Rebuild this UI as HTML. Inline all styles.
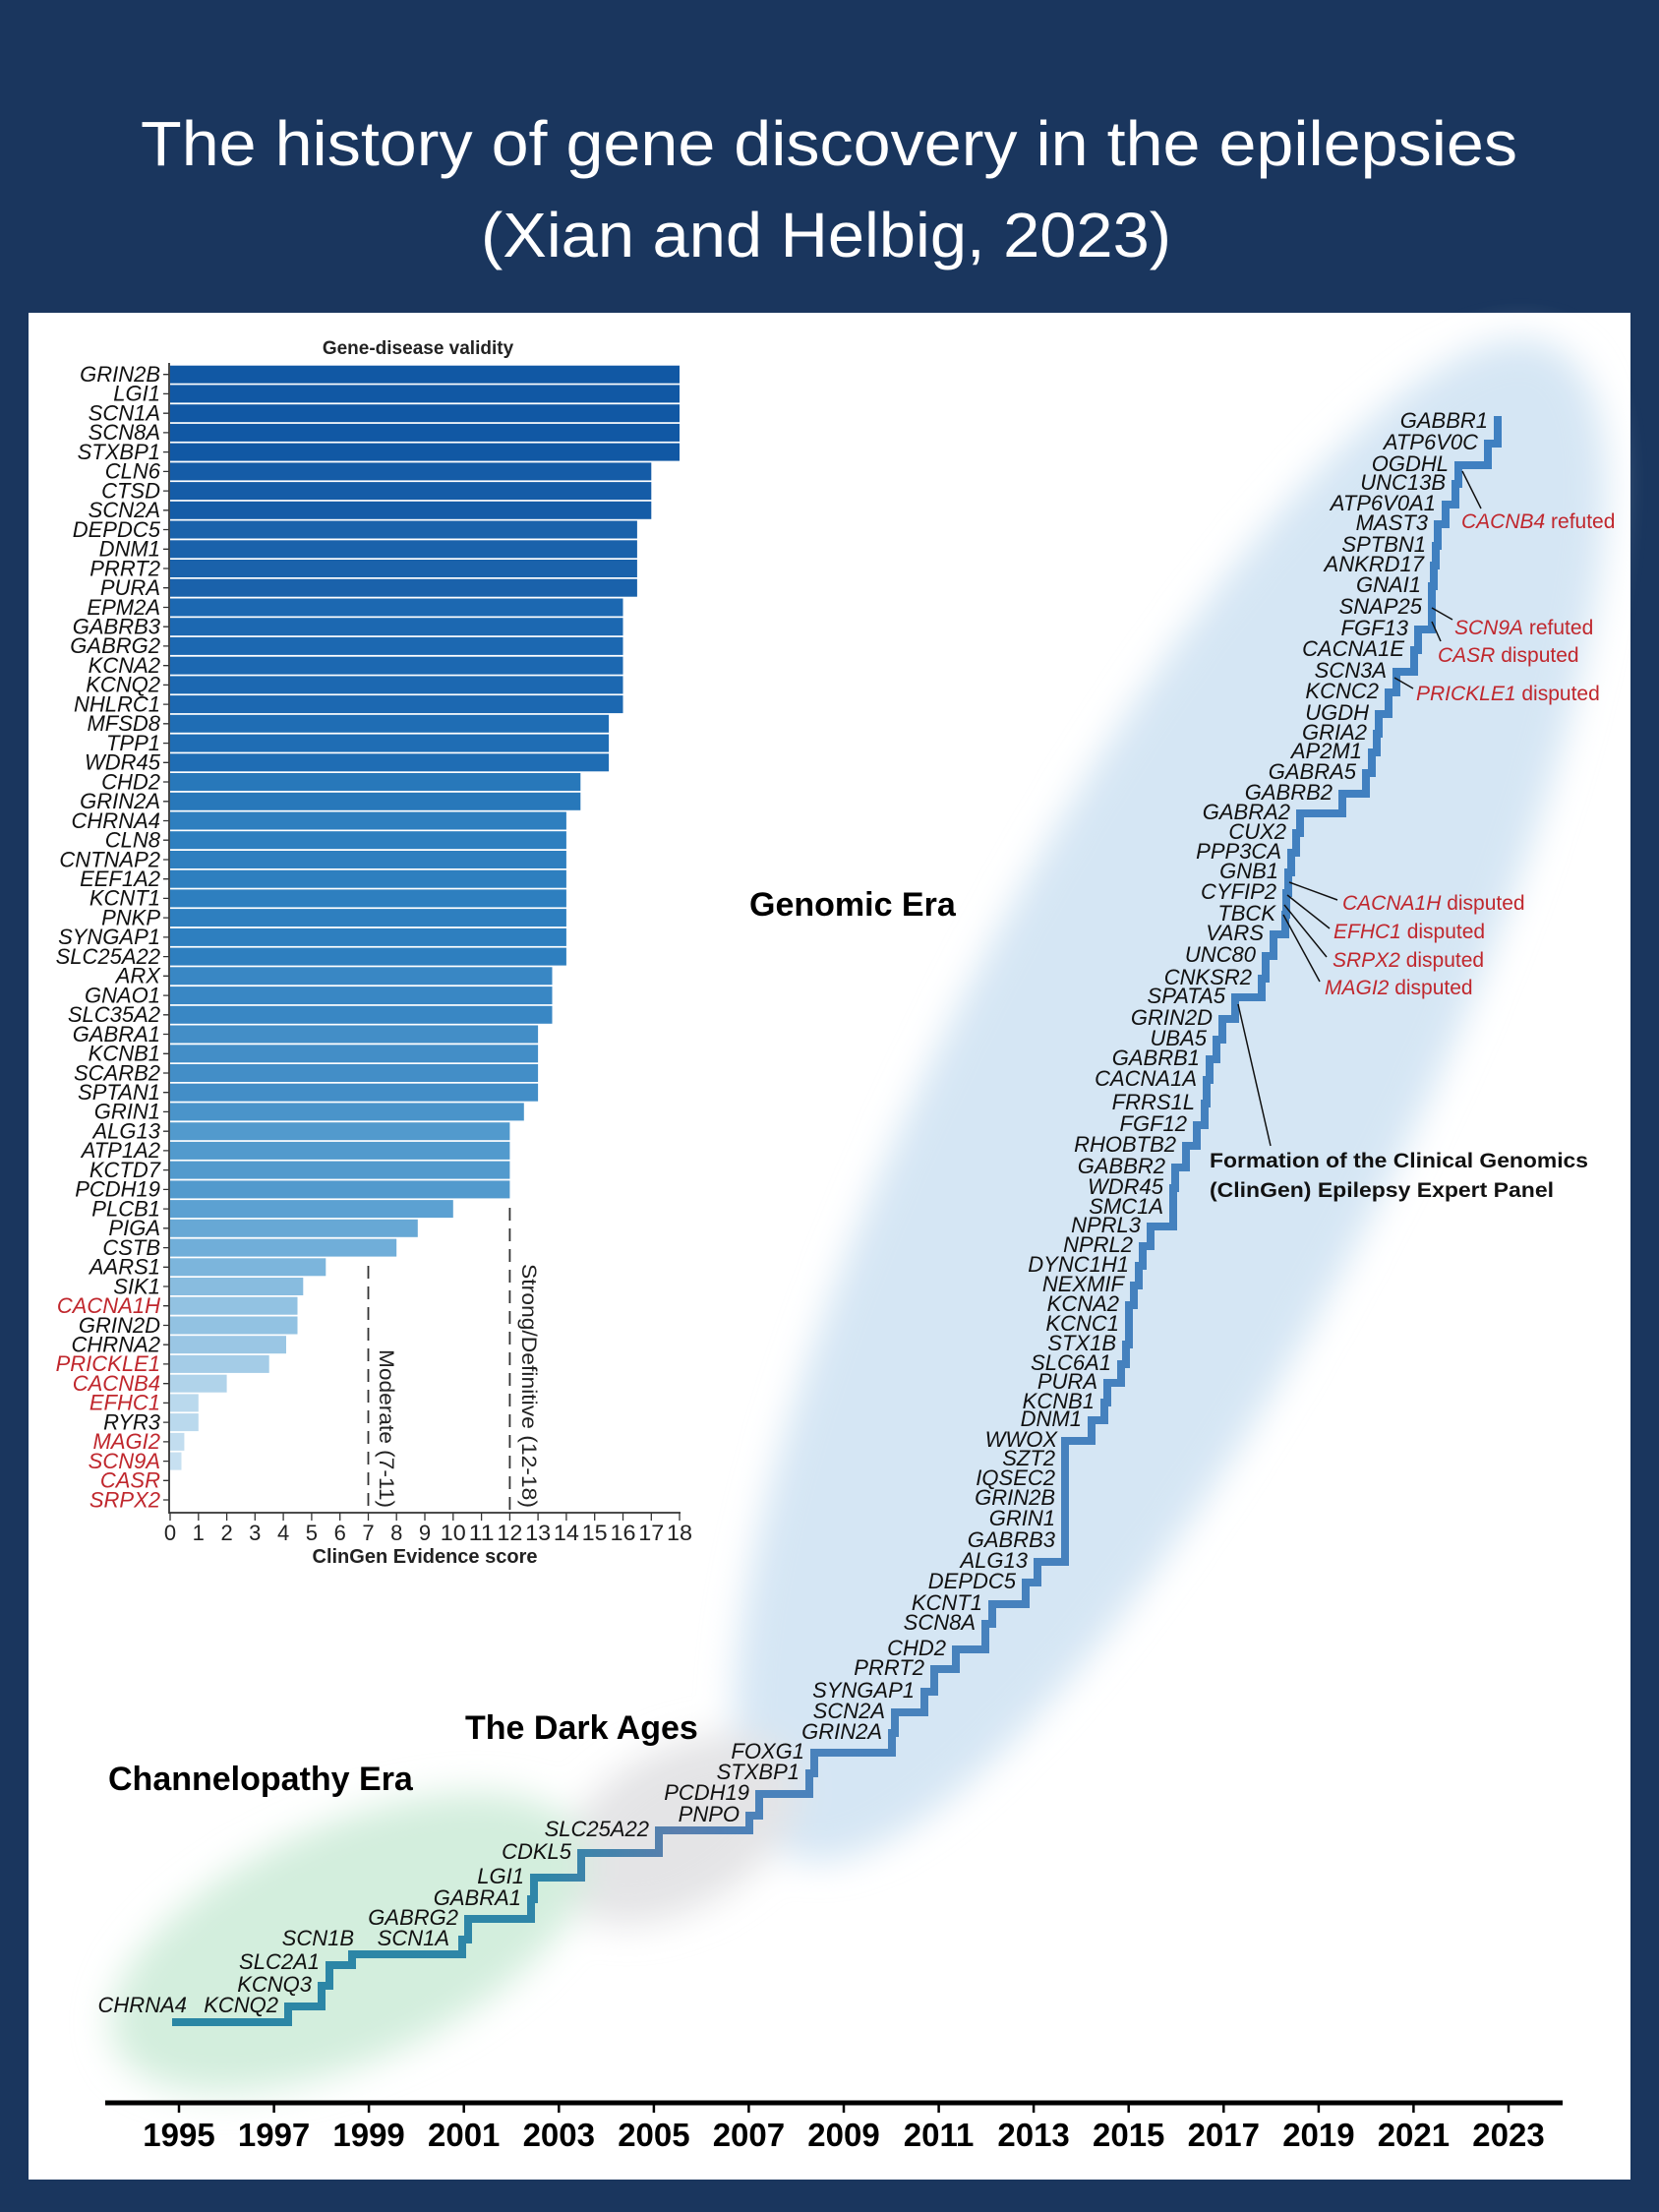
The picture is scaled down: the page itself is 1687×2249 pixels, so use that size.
<!DOCTYPE html>
<html><head><meta charset="utf-8"><style>
html,body{margin:0;padding:0;background:#1a365e;}
svg{display:block;}
text{font-family:"Liberation Sans",Arial,sans-serif;}
.gl{font-style:italic;font-size:22px;fill:#111;text-anchor:end;}
.tl{font-style:italic;font-size:22px;fill:#111;text-anchor:end;}
.rd{fill:#c0272d;}
.an{font-size:21px;fill:#c0272d;}
</style></head><body>
<svg width="1687" height="2249" viewBox="0 0 1687 2249" xmlns="http://www.w3.org/2000/svg">
<defs>
<filter id="bl" x="-30%" y="-30%" width="160%" height="160%"><feGaussianBlur stdDeviation="18"/></filter>
<linearGradient id="lg" gradientUnits="userSpaceOnUse" x1="175" y1="0" x2="1523" y2="0">
<stop offset="0" stop-color="#2a86a4"/><stop offset="0.28" stop-color="#2f86a8"/>
<stop offset="0.38" stop-color="#5a7fae"/><stop offset="0.45" stop-color="#4a82bb"/>
<stop offset="1" stop-color="#3f80c1"/></linearGradient>
</defs>
<rect x="0" y="0" width="1687" height="2249" fill="#1a365e"/>
<text x="843" y="168" font-size="64" fill="#fff" text-anchor="middle" textLength="1400" lengthAdjust="spacingAndGlyphs">The history of gene discovery in the epilepsies</text>
<text x="840" y="261" font-size="64" fill="#fff" text-anchor="middle" textLength="702" lengthAdjust="spacingAndGlyphs">(Xian and Helbig, 2023)</text>
<rect x="29" y="318" width="1629" height="1898" fill="#fff"/>

<g filter="url(#bl)">
<ellipse cx="1190" cy="1119" rx="860" ry="235" transform="rotate(-63 1190 1119)" fill="#d5e6f4"/>
<ellipse cx="689" cy="1860" rx="135" ry="80" transform="rotate(-30 689 1860)" fill="#e4e4e6"/>
<ellipse cx="355" cy="1975" rx="260" ry="120" transform="rotate(-24 355 1975)" fill="#d3eedd"/>
</g>

<text x="425" y="360" font-size="19" font-weight="bold" fill="#222" text-anchor="middle">Gene-disease validity</text>
<g>
<rect x="173" y="371.7" width="518" height="18" fill="#1158a4"/>
<rect x="173" y="391.4" width="518" height="18" fill="#1158a4"/>
<rect x="173" y="411.2" width="518" height="18" fill="#1158a4"/>
<rect x="173" y="430.9" width="518" height="18" fill="#1158a4"/>
<rect x="173" y="450.6" width="518" height="18" fill="#1158a4"/>
<rect x="173" y="470.4" width="489.3" height="18" fill="#155ca7"/>
<rect x="173" y="490.1" width="489.3" height="18" fill="#155ca7"/>
<rect x="173" y="509.8" width="489.3" height="18" fill="#155ca7"/>
<rect x="173" y="529.5" width="474.9" height="18" fill="#1a62ab"/>
<rect x="173" y="549.3" width="474.9" height="18" fill="#1a62ab"/>
<rect x="173" y="569.0" width="474.9" height="18" fill="#1a62ab"/>
<rect x="173" y="588.7" width="474.9" height="18" fill="#1a62ab"/>
<rect x="173" y="608.5" width="460.5" height="18" fill="#1c68b1"/>
<rect x="173" y="628.2" width="460.5" height="18" fill="#1c68b1"/>
<rect x="173" y="647.9" width="460.5" height="18" fill="#1c68b1"/>
<rect x="173" y="667.7" width="460.5" height="18" fill="#1c68b1"/>
<rect x="173" y="687.4" width="460.5" height="18" fill="#1c68b1"/>
<rect x="173" y="707.1" width="460.5" height="18" fill="#1c68b1"/>
<rect x="173" y="726.8" width="446.1" height="18" fill="#1f6db4"/>
<rect x="173" y="746.6" width="446.1" height="18" fill="#1f6db4"/>
<rect x="173" y="766.3" width="446.1" height="18" fill="#1f6db4"/>
<rect x="173" y="786.0" width="417.3" height="18" fill="#2878ba"/>
<rect x="173" y="805.8" width="417.3" height="18" fill="#2878ba"/>
<rect x="173" y="825.5" width="402.9" height="18" fill="#2e7fbf"/>
<rect x="173" y="845.2" width="402.9" height="18" fill="#2e7fbf"/>
<rect x="173" y="865.0" width="402.9" height="18" fill="#2e7fbf"/>
<rect x="173" y="884.7" width="402.9" height="18" fill="#2e7fbf"/>
<rect x="173" y="904.4" width="402.9" height="18" fill="#2e7fbf"/>
<rect x="173" y="924.1" width="402.9" height="18" fill="#2e7fbf"/>
<rect x="173" y="943.9" width="402.9" height="18" fill="#2e7fbf"/>
<rect x="173" y="963.6" width="402.9" height="18" fill="#2e7fbf"/>
<rect x="173" y="983.3" width="388.5" height="18" fill="#3987c4"/>
<rect x="173" y="1003.1" width="388.5" height="18" fill="#3987c4"/>
<rect x="173" y="1022.8" width="388.5" height="18" fill="#3987c4"/>
<rect x="173" y="1042.5" width="374.1" height="18" fill="#438ec7"/>
<rect x="173" y="1062.3" width="374.1" height="18" fill="#438ec7"/>
<rect x="173" y="1082.0" width="374.1" height="18" fill="#438ec7"/>
<rect x="173" y="1101.7" width="374.1" height="18" fill="#438ec7"/>
<rect x="173" y="1121.4" width="359.8" height="18" fill="#4a94ca"/>
<rect x="173" y="1141.2" width="345.4" height="18" fill="#529acd"/>
<rect x="173" y="1160.9" width="345.4" height="18" fill="#529acd"/>
<rect x="173" y="1180.6" width="345.4" height="18" fill="#529acd"/>
<rect x="173" y="1200.4" width="345.4" height="18" fill="#529acd"/>
<rect x="173" y="1220.1" width="287.8" height="18" fill="#5ca1d2"/>
<rect x="173" y="1239.8" width="251.8" height="18" fill="#67a8d5"/>
<rect x="173" y="1259.6" width="230.2" height="18" fill="#70aed9"/>
<rect x="173" y="1279.3" width="158.3" height="18" fill="#7cb5dc"/>
<rect x="173" y="1299.0" width="135.3" height="18" fill="#88bcdf"/>
<rect x="173" y="1318.7" width="129.5" height="18" fill="#92c2e2"/>
<rect x="173" y="1338.5" width="129.5" height="18" fill="#92c2e2"/>
<rect x="173" y="1358.2" width="118" height="18" fill="#9ac6e4"/>
<rect x="173" y="1377.9" width="100.7" height="18" fill="#a4cce7"/>
<rect x="173" y="1397.7" width="57.6" height="18" fill="#b0d3ea"/>
<rect x="173" y="1417.4" width="28.8" height="18" fill="#bad9ed"/>
<rect x="173" y="1437.1" width="28.8" height="18" fill="#bad9ed"/>
<rect x="173" y="1456.9" width="14.4" height="18" fill="#c2ddef"/>
<rect x="173" y="1476.6" width="11.5" height="18" fill="#c7e0f1"/>
</g>
<g class="gl">
<text x="163" y="388">GRIN2B</text><text x="163" y="407.7">LGI1</text><text x="163" y="427.5">SCN1A</text><text x="163" y="447.2">SCN8A</text><text x="163" y="466.9">STXBP1</text>
<text x="163" y="486.7">CLN6</text><text x="163" y="506.4">CTSD</text><text x="163" y="526.1">SCN2A</text><text x="163" y="545.8">DEPDC5</text><text x="163" y="565.6">DNM1</text>
<text x="163" y="585.3">PRRT2</text><text x="163" y="605">PURA</text><text x="163" y="624.8">EPM2A</text><text x="163" y="644.5">GABRB3</text><text x="163" y="664.2">GABRG2</text>
<text x="163" y="684">KCNA2</text><text x="163" y="703.7">KCNQ2</text><text x="163" y="723.4">NHLRC1</text><text x="163" y="743.1">MFSD8</text><text x="163" y="762.9">TPP1</text>
<text x="163" y="782.6">WDR45</text><text x="163" y="802.3">CHD2</text><text x="163" y="822.1">GRIN2A</text><text x="163" y="841.8">CHRNA4</text><text x="163" y="861.5">CLN8</text>
<text x="163" y="881.3">CNTNAP2</text><text x="163" y="901">EEF1A2</text><text x="163" y="920.7">KCNT1</text><text x="163" y="940.4">PNKP</text><text x="163" y="960.2">SYNGAP1</text>
<text x="163" y="979.9">SLC25A22</text><text x="163" y="999.6">ARX</text><text x="163" y="1019.4">GNAO1</text><text x="163" y="1039.1">SLC35A2</text><text x="163" y="1058.8">GABRA1</text>
<text x="163" y="1078.6">KCNB1</text><text x="163" y="1098.3">SCARB2</text><text x="163" y="1118">SPTAN1</text><text x="163" y="1137.7">GRIN1</text><text x="163" y="1157.5">ALG13</text>
<text x="163" y="1177.2">ATP1A2</text><text x="163" y="1196.9">KCTD7</text><text x="163" y="1216.7">PCDH19</text><text x="163" y="1236.4">PLCB1</text><text x="163" y="1256.1">PIGA</text>
<text x="163" y="1275.9">CSTB</text><text x="163" y="1295.6">AARS1</text><text x="163" y="1315.3">SIK1</text><text x="163" y="1335" class="rd">CACNA1H</text><text x="163" y="1354.8">GRIN2D</text>
<text x="163" y="1374.5">CHRNA2</text><text x="163" y="1394.2" class="rd">PRICKLE1</text><text x="163" y="1414" class="rd">CACNB4</text><text x="163" y="1433.7" class="rd">EFHC1</text><text x="163" y="1453.4">RYR3</text>
<text x="163" y="1473.2" class="rd">MAGI2</text><text x="163" y="1492.9" class="rd">SCN9A</text><text x="163" y="1512.6" class="rd">CASR</text><text x="163" y="1532.3" class="rd">SRPX2</text>
</g>
<g stroke="#333" stroke-width="1.3">
<line x1="172" y1="369" x2="172" y2="1539" stroke-width="1.8"/>
<line x1="172" y1="1538" x2="692" y2="1538" stroke-width="1.8"/>
<path d="M166,380.7H172M166,400.4H172M166,420.2H172M166,439.9H172M166,459.6H172M166,479.4H172M166,499.1H172M166,518.8H172M166,538.5H172M166,558.3H172M166,578H172M166,597.7H172M166,617.5H172M166,637.2H172M166,656.9H172M166,676.7H172M166,696.4H172M166,716.1H172M166,735.8H172M166,755.6H172M166,775.3H172M166,795H172M166,814.8H172M166,834.5H172M166,854.2H172M166,874H172M166,893.7H172M166,913.4H172M166,933.1H172M166,952.9H172M166,972.6H172M166,992.3H172M166,1012.1H172M166,1031.8H172M166,1051.5H172M166,1071.3H172M166,1091H172M166,1110.7H172M166,1130.4H172M166,1150.2H172M166,1169.9H172M166,1189.6H172M166,1209.4H172M166,1229.1H172M166,1248.8H172M166,1268.6H172M166,1288.3H172M166,1308H172M166,1327.7H172M166,1347.5H172M166,1367.2H172M166,1386.9H172M166,1406.7H172M166,1426.4H172M166,1446.1H172M166,1465.9H172M166,1485.6H172M166,1505.3H172M166,1525H172"/>
<path d="M173,1538V1546M201.8,1538V1546M230.6,1538V1546M259.3,1538V1546M288.1,1538V1546M316.9,1538V1546M345.7,1538V1546M374.5,1538V1546M403.2,1538V1546M432,1538V1546M460.8,1538V1546M489.6,1538V1546M518.4,1538V1546M547.1,1538V1546M575.9,1538V1546M604.7,1538V1546M633.5,1538V1546M662.3,1538V1546M691,1538V1546"/>
</g>
<g font-size="22" fill="#222" text-anchor="middle">
<text x="173" y="1566">0</text><text x="201.8" y="1566">1</text><text x="230.6" y="1566">2</text><text x="259.3" y="1566">3</text><text x="288.1" y="1566">4</text><text x="316.9" y="1566">5</text><text x="345.7" y="1566">6</text><text x="374.5" y="1566">7</text><text x="403.2" y="1566">8</text><text x="432" y="1566">9</text>
<text x="460.8" y="1566" textLength="26" lengthAdjust="spacingAndGlyphs">10</text><text x="489.6" y="1566" textLength="26" lengthAdjust="spacingAndGlyphs">11</text><text x="518.4" y="1566" textLength="26" lengthAdjust="spacingAndGlyphs">12</text><text x="547.1" y="1566" textLength="26" lengthAdjust="spacingAndGlyphs">13</text><text x="575.9" y="1566" textLength="26" lengthAdjust="spacingAndGlyphs">14</text><text x="604.7" y="1566" textLength="26" lengthAdjust="spacingAndGlyphs">15</text><text x="633.5" y="1566" textLength="26" lengthAdjust="spacingAndGlyphs">16</text><text x="662.3" y="1566" textLength="26" lengthAdjust="spacingAndGlyphs">17</text><text x="691" y="1566" textLength="26" lengthAdjust="spacingAndGlyphs">18</text>
</g>
<text x="432" y="1589" font-size="20" font-weight="bold" fill="#222" text-anchor="middle">ClinGen Evidence score</text>
<g stroke="#333" stroke-width="1.8" stroke-dasharray="13 8">
<line x1="374.5" y1="1287" x2="374.5" y2="1538"/>
<line x1="518.4" y1="1228" x2="518.4" y2="1538"/>
</g>
<text transform="translate(386,1372) rotate(90)" font-size="21" fill="#222" textLength="161" lengthAdjust="spacingAndGlyphs">Moderate (7-11)</text>
<text transform="translate(531,1285) rotate(90)" font-size="21" fill="#222" textLength="248" lengthAdjust="spacingAndGlyphs">Strong/Definitive (12-18)</text>

<g font-size="34" font-weight="bold" fill="#000">
<text x="110" y="1820">Channelopathy Era</text>
<text x="473" y="1768">The Dark Ages</text>
<text x="762" y="931">Genomic Era</text>
</g>
<g font-size="21" font-weight="bold" fill="#111">
<text x="1230" y="1187" textLength="385" lengthAdjust="spacingAndGlyphs">Formation of the Clinical Genomics</text>
<text x="1230" y="1217" textLength="350" lengthAdjust="spacingAndGlyphs">(ClinGen) Epilepsy Expert Panel</text>
</g>

<path fill="none" stroke="url(#lg)" stroke-width="8" stroke-linejoin="miter" d="M175,2056 H293 V2040 H327 V2019 H335 V1998 H358 V1987 H470 V1972 H476 V1951 H540 V1931 H543 V1909 H591 V1884 H670 V1861 H762 V1846 H772 V1824 H823 V1803 H828 V1782 H907 V1762 H910 V1741 H940 V1720 H950 V1697 H972 V1677 H1002 V1651 H1009 V1631 H1043 V1609 H1055 V1588 H1083 V1465 H1085 V1465 H1110 V1444 H1123 V1426 H1126 V1406 H1140 V1387 H1145 V1367 H1148 V1327 H1153 V1307 H1158 V1287 H1162 V1267 H1170 V1247 H1193 V1208 H1195 V1187 H1206 V1165 H1217 V1144 H1225 V1122 H1227 V1098 H1230 V1077 H1237 V1057 H1243 V1036 H1256 V1014 H1283 V995 H1287 V972 H1295 V950 H1307 V930 H1308 V908 H1310 V887 H1313 V867 H1318 V847 H1322 V827 H1365 V807 H1389 V786 H1395 V765 H1400 V746 H1402 V726 H1412 V704 H1420 V683 H1438 V661 H1442 V640 H1456 V596 H1458 V575 H1460 V555 H1462 V533 H1470 V513 H1480 V492 H1483 V473 H1513 V451 H1523 V423"/>

<g class="tl">
<text x="190" y="2046">CHRNA4</text><text x="283" y="2046">KCNQ2</text><text x="317" y="2025">KCNQ3</text><text x="325" y="2002">SLC2A1</text>
<text x="360" y="1978">SCN1B</text><text x="457" y="1978">SCN1A</text><text x="466" y="1957">GABRG2</text><text x="530" y="1937">GABRA1</text>
<text x="533" y="1915">LGI1</text><text x="581" y="1890">CDKL5</text><text x="660" y="1867">SLC25A22</text><text x="752" y="1852">PNPO</text>
<text x="762" y="1830">PCDH19</text><text x="813" y="1809">STXBP1</text><text x="818" y="1788">FOXG1</text><text x="897" y="1768">GRIN2A</text>
<text x="900" y="1747">SCN2A</text><text x="930" y="1726">SYNGAP1</text><text x="940" y="1703">PRRT2</text><text x="962" y="1683">CHD2</text>
<text x="992" y="1657">SCN8A</text><text x="999" y="1637">KCNT1</text><text x="1033" y="1615">DEPDC5</text><text x="1045" y="1594">ALG13</text>
<text x="1073" y="1573">GABRB3</text><text x="1073" y="1551">GRIN1</text><text x="1073" y="1530">GRIN2B</text><text x="1073" y="1510">IQSEC2</text>
<text x="1073" y="1490">SZT2</text><text x="1075" y="1471">WWOX</text><text x="1100" y="1450">DNM1</text><text x="1113" y="1432">KCNB1</text>
<text x="1116" y="1412">PURA</text><text x="1130" y="1393">SLC6A1</text><text x="1135" y="1373">STX1B</text><text x="1138" y="1353">KCNC1</text>
<text x="1138" y="1333">KCNA2</text><text x="1143" y="1313">NEXMIF</text><text x="1148" y="1293">DYNC1H1</text><text x="1152" y="1273">NPRL2</text>
<text x="1160" y="1253">NPRL3</text><text x="1183" y="1234">SMC1A</text><text x="1183" y="1214">WDR45</text><text x="1185" y="1193">GABBR2</text>
<text x="1196" y="1171">RHOBTB2</text><text x="1207" y="1150">FGF12</text><text x="1215" y="1128">FRRS1L</text><text x="1217" y="1104">CACNA1A</text>
<text x="1220" y="1083">GABRB1</text><text x="1227" y="1063">UBA5</text><text x="1233" y="1042">GRIN2D</text><text x="1246" y="1020">SPATA5</text>
<text x="1273" y="1001">CNKSR2</text><text x="1277" y="978">UNC80</text><text x="1285" y="956">VARS</text><text x="1297" y="936">TBCK</text>
<text x="1298" y="914">CYFIP2</text><text x="1300" y="893">GNB1</text><text x="1303" y="873">PPP3CA</text><text x="1308" y="853">CUX2</text>
<text x="1312" y="833">GABRA2</text><text x="1355" y="813">GABRB2</text><text x="1379" y="792">GABRA5</text><text x="1385" y="771">AP2M1</text>
<text x="1390" y="752">GRIA2</text><text x="1392" y="732">UGDH</text><text x="1402" y="710">KCNC2</text><text x="1410" y="689">SCN3A</text>
<text x="1428" y="667">CACNA1E</text><text x="1432" y="646">FGF13</text><text x="1446" y="624">SNAP25</text><text x="1445" y="602">GNAI1</text>
<text x="1448" y="581">ANKRD17</text><text x="1450" y="561">SPTBN1</text><text x="1452" y="539">MAST3</text><text x="1460" y="519">ATP6V0A1</text>
<text x="1470" y="498">UNC13B</text><text x="1473" y="479">OGDHL</text><text x="1503" y="457">ATP6V0C</text><text x="1513" y="435">GABBR1</text>
</g>

<g stroke="#111" stroke-width="1.5">
<line x1="1487" y1="479" x2="1506" y2="517"/>
<line x1="1456" y1="618" x2="1477" y2="630"/>
<line x1="1456" y1="632" x2="1465" y2="652"/>
<line x1="1418" y1="689" x2="1437" y2="700"/>
<line x1="1311" y1="897" x2="1360" y2="915"/>
<line x1="1309" y1="910" x2="1352" y2="944"/>
<line x1="1306" y1="920" x2="1349" y2="973"/>
<line x1="1305" y1="930" x2="1342" y2="998"/>
<line x1="1259" y1="1021" x2="1292" y2="1165"/>
</g>
<g class="an">
<text x="1486" y="537"><tspan font-style="italic">CACNB4</tspan> refuted</text>
<text x="1479" y="645"><tspan font-style="italic">SCN9A</tspan> refuted</text>
<text x="1462" y="673"><tspan font-style="italic">CASR</tspan> disputed</text>
<text x="1440" y="712"><tspan font-style="italic">PRICKLE1</tspan> disputed</text>
<text x="1365" y="925"><tspan font-style="italic">CACNA1H</tspan> disputed</text>
<text x="1356" y="954"><tspan font-style="italic">EFHC1</tspan> disputed</text>
<text x="1355" y="983"><tspan font-style="italic">SRPX2</tspan> disputed</text>
<text x="1347" y="1011"><tspan font-style="italic">MAGI2</tspan> disputed</text>
</g>

<line x1="107" y1="2138" x2="1589" y2="2138" stroke="#000" stroke-width="5"/>
<path stroke="#000" stroke-width="2.5" d="M182,2138V2148M278.6,2138V2148M375.1,2138V2148M471.7,2138V2148M568.3,2138V2148M664.9,2138V2148M761.4,2138V2148M858,2138V2148M954.6,2138V2148M1051.1,2138V2148M1147.7,2138V2148M1244.3,2138V2148M1340.9,2138V2148M1437.4,2138V2148M1534,2138V2148"/>
<g font-size="33" font-weight="bold" fill="#000" text-anchor="middle">
<text x="182" y="2182">1995</text><text x="278.6" y="2182">1997</text><text x="375.1" y="2182">1999</text><text x="471.7" y="2182">2001</text><text x="568.3" y="2182">2003</text><text x="664.9" y="2182">2005</text><text x="761.4" y="2182">2007</text><text x="858" y="2182">2009</text><text x="954.6" y="2182">2011</text><text x="1051.1" y="2182">2013</text><text x="1147.7" y="2182">2015</text><text x="1244.3" y="2182">2017</text><text x="1340.9" y="2182">2019</text><text x="1437.4" y="2182">2021</text><text x="1534" y="2182">2023</text>
</g>
</svg>
</body></html>
